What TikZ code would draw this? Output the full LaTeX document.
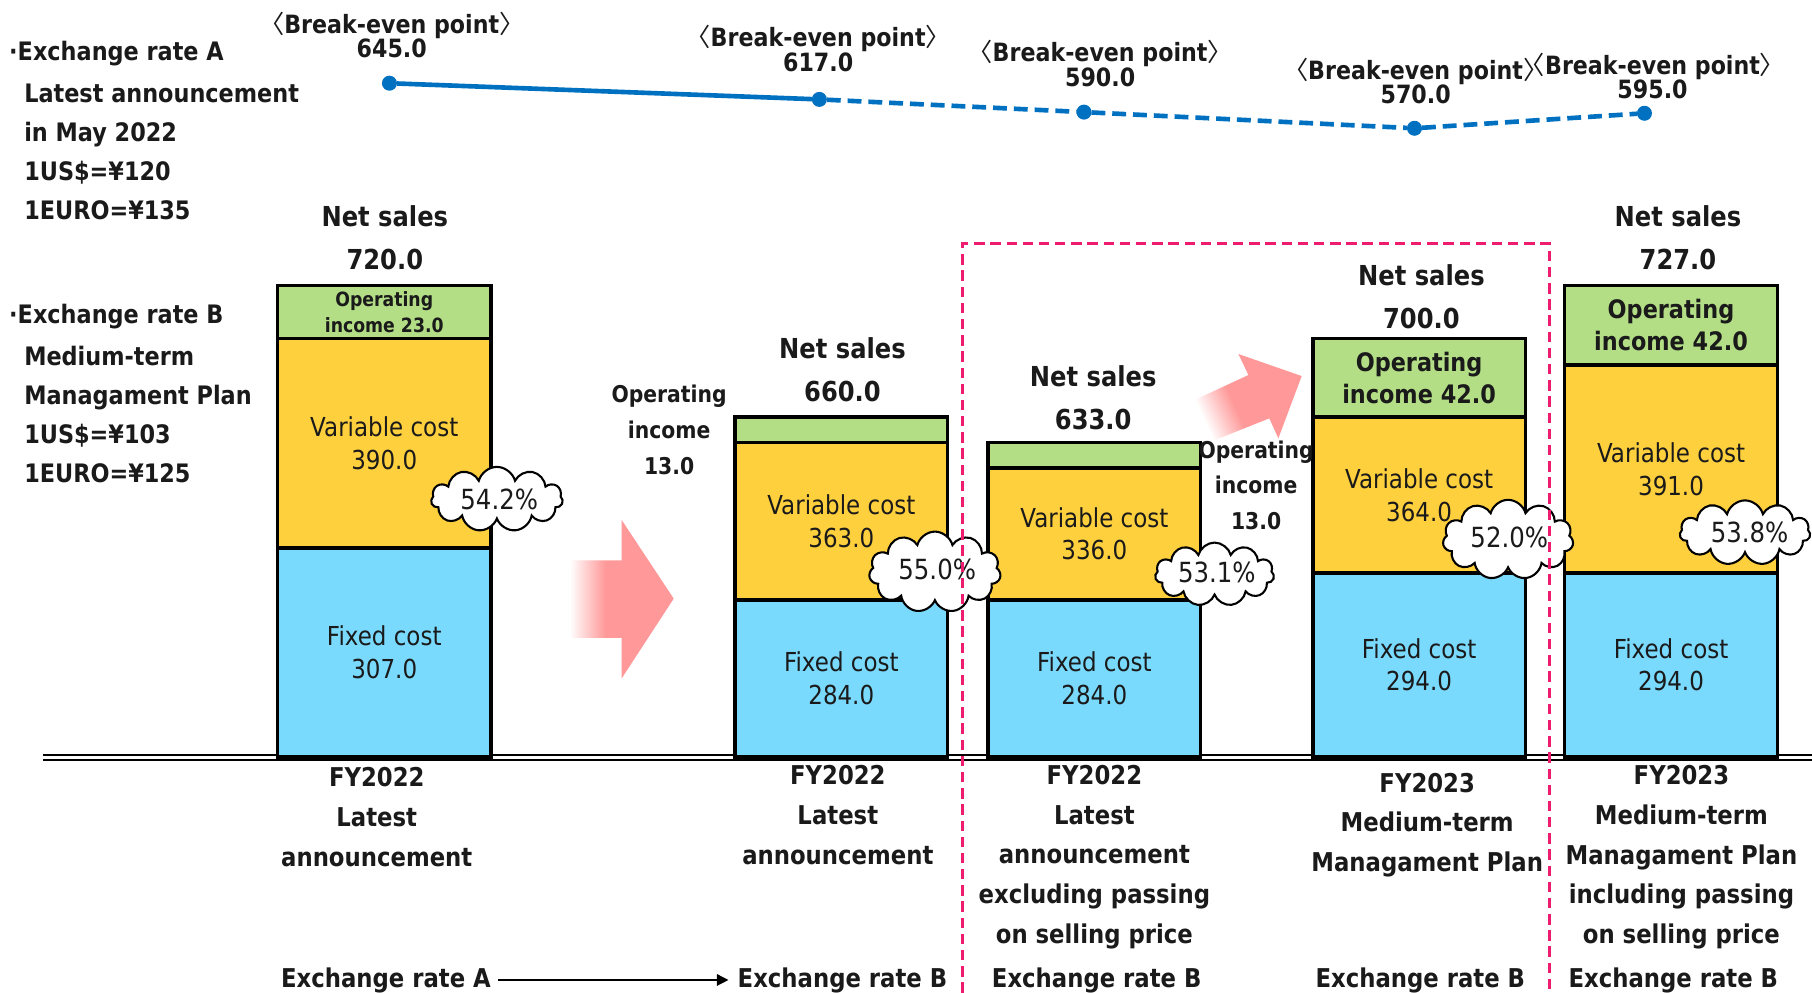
\documentclass[tikz,border=0pt]{standalone}
\usepackage{fontspec}
\setmainfont{DejaVu Sans}[FakeStretch=0.88]
\newfontfamily\cjk{Noto Sans CJK JP}
\usetikzlibrary{shapes.symbols,arrows.meta}
\definecolor{opgreen}{HTML}{B3DE86}
\definecolor{vyellow}{HTML}{FFD03E}
\definecolor{fblue}{HTML}{7ADAFD}
\definecolor{lineblue}{HTML}{0070C0}
\definecolor{dpink}{HTML}{EE1C6E}
\definecolor{arrowpink}{HTML}{FF9999}
\definecolor{txt}{HTML}{1A1A1A}
\pgfdeclarehorizontalshading{arrowfade}{100bp}{color(0bp)=(white); color(25bp)=(white); color(42bp)=(arrowpink); color(100bp)=(arrowpink)}
\newcommand\regtext{\fontsize{11.3}{14}\selectfont}
\newcommand\smallop{\fontsize{8.5}{11.5}\selectfont\bfseries}
\newcommand\bigop{\fontsize{11}{14}\selectfont\bfseries}
\newcommand\nsfont{\fontsize{11.9}{18.75}\selectfont\bfseries}
\newcommand\sidefont{\fontsize{10}{15.5}\selectfont\bfseries}
\newcommand\lblfont{\fontsize{11.2}{17.2}\selectfont\bfseries}
\newcommand\leftfont{\fontsize{11}{16.9}\selectfont\bfseries}
\newcommand\befont{\fontsize{10.9}{10.5}\selectfont\bfseries}
\newcommand\pctfont{\fontsize{12}{14}\selectfont}
\newcommand\lb{{\cjk\mdseries 〈}}
\newcommand\rb{{\cjk\mdseries 〉}}
\begin{document}
\begin{tikzpicture}[x=0.5pt,y=-0.5pt,
  every node/.style={text=txt, inner sep=0pt, outer sep=0pt},
  boxbase/.style={draw=black, line width=1.5pt, anchor=north west, align=center},
  opbar/.style={boxbase, fill=opgreen},
  varbar/.style={boxbase, fill=vyellow, font=\regtext},
  fixbar/.style={boxbase, fill=fblue, font=\regtext},
  cloudbox/.style={cloud, cloud puffs=11, aspect=2, draw=black, fill=white, line width=0.9pt},
  pct/.style={font=\pctfont},
  nslabel/.style={align=center, font=\nsfont},
  sidelabel/.style={align=center, font=\sidefont},
  lbl/.style={align=center, font=\lblfont},
  leftlbl/.style={align=left, anchor=west, font=\leftfont},
  belabel/.style={align=center, font=\befont},
  bedot/.style={circle, fill=lineblue, minimum size=6.5pt},
  blueline/.style={draw=lineblue, line width=2pt},
  bluedash/.style={blueline, dash pattern=on 6pt off 3pt},
  pinkdash/.style={draw=dpink, line width=1.2pt, dash pattern=on 4.5pt off 2.5pt},
  baseline/.style={draw=black}
]
\useasboundingbox (0,0) rectangle (1568,859);

% fat pink arrows
\shade[shading=arrowfade] (493,485) -- (538,485) -- (538,450) -- (583,518) -- (538,587) -- (538,552) -- (493,552) -- cycle;
\shade[shading=arrowfade, shading angle=24.4] (1034,346) -- (1080.3,324.5) -- (1071.6,306.3) -- (1126.4,325.4) -- (1106.2,379.3) -- (1098.4,362) -- (1051.4,380.8) -- cycle;

% left explanation
\node[leftlbl] (hA) at (8,46) {·Exchange rate A};
\node[leftlbl] (bA) at (21,131.5) {Latest announcement\\in May 2022\\1US\$=¥120\\1EURO=¥135};
\node[leftlbl] (hB) at (8,274) {·Exchange rate B};
\node[leftlbl] (bB) at (21,358.5) {Medium-term\\Managament Plan\\1US\$=¥103\\1EURO=¥125};

% break-even line
\node[bedot] (be1) at (337,72) {};
\node[bedot] (be2) at (709,86) {};
\node[bedot] (be3) at (938,97) {};
\node[bedot] (be4) at (1224,111) {};
\node[bedot] (be5) at (1423,98) {};
\draw[blueline] (be1) -- (be2);
\draw[bluedash] (be2) -- (be3) -- (be4) -- (be5);
\node[belabel] (bl1) at (339,30) {\lb Break-even point\rb\\645.0};
\node[belabel] (bl2) at (708,42) {\lb Break-even point\rb\\617.0};
\node[belabel] (bl3) at (952,55) {\lb Break-even point\rb\\590.0};
\node[belabel] (bl4) at (1225,70) {\lb Break-even point\rb\\570.0};
\node[belabel] (bl5) at (1430,66) {\lb Break-even point\rb\\595.0};

% baseline
\draw[baseline, line width=1pt] (37,653.5) -- (1568,653.5);
\draw[baseline, line width=0.8pt] (37,657.5) -- (1568,657.5);

% bar 1
\node[opbar, minimum width=92.5pt, minimum height=23pt, font=\smallop] (op1) at (240,247) {Operating\\income 23.0};
\node[varbar, minimum width=92.5pt, minimum height=90.5pt] (var1) at (op1.south west) {Variable cost\\390.0};
\node[fixbar, minimum width=92.5pt, minimum height=90.5pt] (fix1) at (var1.south west) {Fixed cost\\307.0};
% bar 2
\node[opbar, minimum width=92pt, minimum height=11pt] (op2) at (636,361) {};
\node[varbar, minimum width=92pt, minimum height=68pt] (var2) at (op2.south west) {Variable cost\\363.0};
\node[fixbar, minimum width=92pt, minimum height=68pt] (fix2) at (var2.south west) {Fixed cost\\284.0};
% bar 3
\node[opbar, minimum width=92pt, minimum height=11pt] (op3) at (855,383) {};
\node[varbar, minimum width=92pt, minimum height=57pt] (var3) at (op3.south west) {Variable cost\\336.0};
\node[fixbar, minimum width=92pt, minimum height=68pt] (fix3) at (var3.south west) {Fixed cost\\284.0};
% bar 4
\node[opbar, minimum width=92pt, minimum height=34pt, font=\bigop] (op4) at (1136,293) {Operating\\income 42.0};
\node[varbar, minimum width=92pt, minimum height=67.5pt] (var4) at (op4.south west) {Variable cost\\364.0};
\node[fixbar, minimum width=92pt, minimum height=79.5pt] (fix4) at (var4.south west) {Fixed cost\\294.0};
% bar 5
\node[opbar, minimum width=92pt, minimum height=34.5pt, font=\bigop] (op5) at (1354,247) {Operating\\income 42.0};
\node[varbar, minimum width=92pt, minimum height=90pt] (var5) at (op5.south west) {Variable cost\\391.0};
\node[fixbar, minimum width=92pt, minimum height=79.5pt] (fix5) at (var5.south west) {Fixed cost\\294.0};

% clouds
\node[cloudbox, minimum width=57pt, minimum height=28pt] (c1) at (430,432) {};
\node[cloudbox, minimum width=57pt, minimum height=35pt] (c2) at (809,495) {};
\node[cloudbox, minimum width=51.5pt, minimum height=27.5pt] (c3) at (1051,497) {};
\node[cloudbox, minimum width=56.5pt, minimum height=34.5pt] (c4) at (1305,467) {};
\node[cloudbox, minimum width=56.5pt, minimum height=28pt] (c5) at (1510,461) {};
\node[pct] (p1) at (432,432) {54.2\%};
\node[pct] (p2) at (811,493) {55.0\%};
\node[pct] (p3) at (1053,495) {53.1\%};
\node[pct] (p4) at (1306,465) {52.0\%};
\node[pct] (p5) at (1514,461) {53.8\%};

% net sales
\node[nslabel] (ns1) at (333,205.5) {Net sales\\720.0};
\node[nslabel] (ns2) at (729,320) {Net sales\\660.0};
\node[nslabel] (ns3) at (946,344) {Net sales\\633.0};
\node[nslabel] (ns4) at (1230,256.5) {Net sales\\700.0};
\node[nslabel] (ns5) at (1452,205.5) {Net sales\\727.0};

% side operating income labels
\node[sidelabel] (oi2) at (579,372) {Operating\\income\\13.0};
\node[sidelabel] (oi3) at (1087,420) {Operating\\income\\13.0};

% categories
\node[lbl] (cat1) at (326,707) {FY2022\\Latest\\announcement};
\node[lbl] (cat2) at (725,705.5) {FY2022\\Latest\\announcement};
\node[lbl] (cat3) at (947,741.6) {FY2022\\Latest\\announcement\\excluding passing\\on selling price};
\node[lbl] (cat4) at (1235,714) {FY2023\\Medium-term\\Managament Plan};
\node[lbl] (cat5) at (1455,741.8) {FY2023\\Medium-term\\Managament Plan\\including passing\\on selling price};

\node[lbl] (erA) at (334,848) {Exchange rate A};
\node[lbl] (erB1) at (729,848) {Exchange rate B};
\node[lbl] (erB2) at (949,848) {Exchange rate B};
\node[lbl] (erB3) at (1229,848) {Exchange rate B};
\node[lbl] (erB4) at (1448,848) {Exchange rate B};
\draw[line width=0.6pt, -{Triangle[length=5pt,width=5pt]}, shorten <=3pt, shorten >=4pt] (erA.east) -- (erB1.west);

% pink dashed frame
\draw[pinkdash] (833,859) -- (833,211) -- (1341,211) -- (1341,859);
\end{tikzpicture}
\end{document}
